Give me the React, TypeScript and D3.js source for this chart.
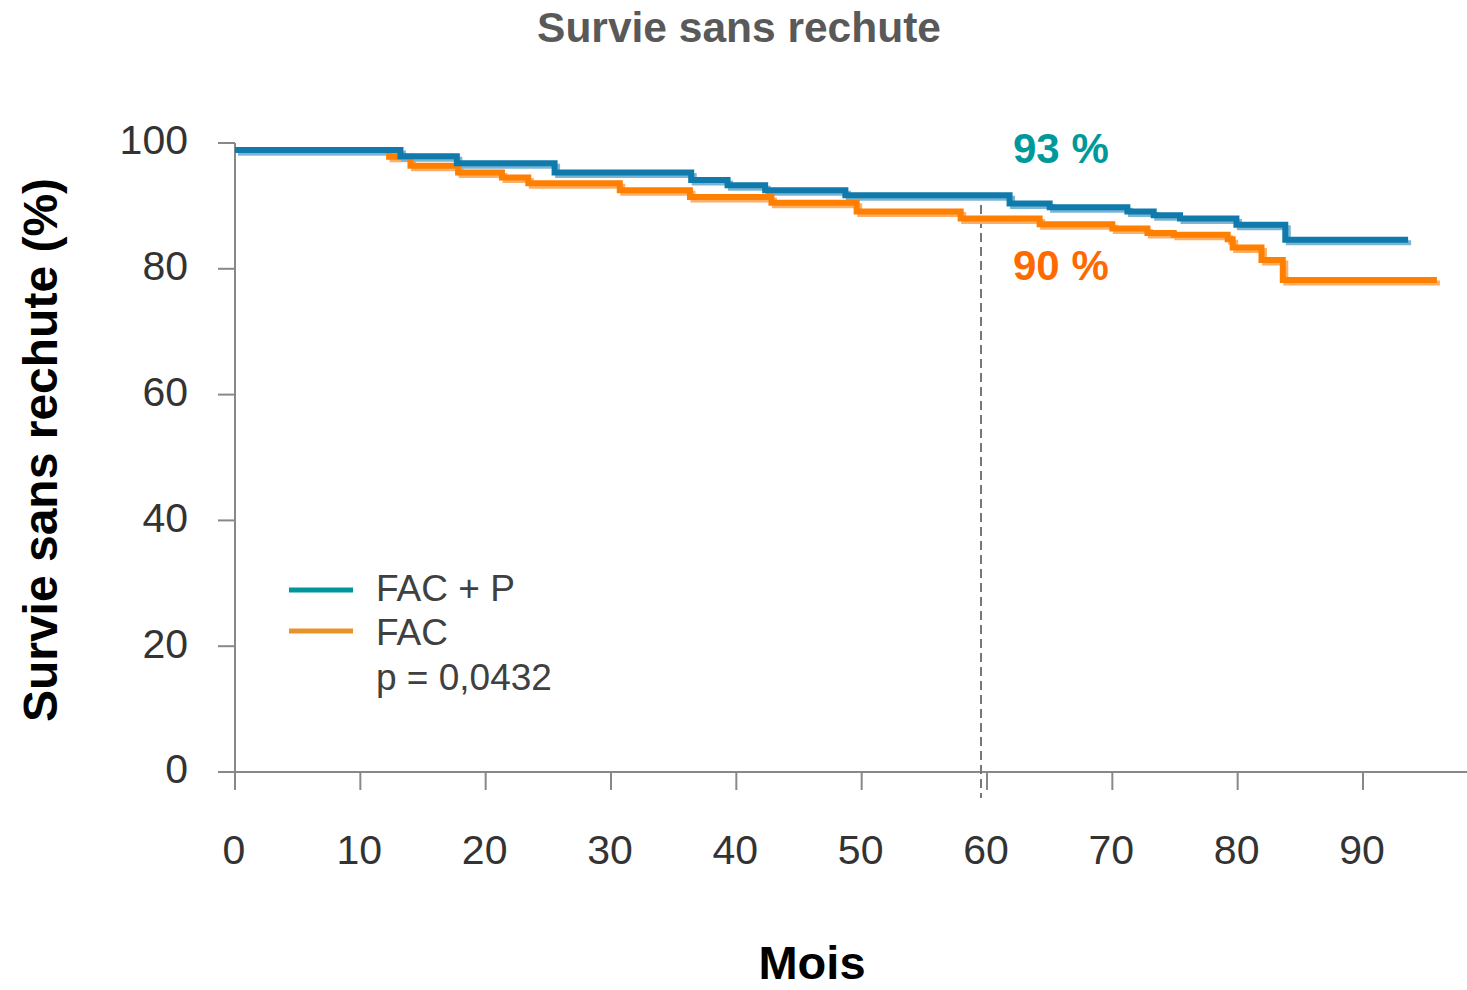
import React from 'react';
import * as d3 from 'd3';

// Kaplan-Meier steps (months, % relapse-free)
const fapMonths = [0, 13.2, 17.7, 25.5, 36.4, 39.3, 42.3, 48.7, 61.8, 65, 71.2, 73.3, 75.4, 79.9, 83.8, 93.6];
const fapValues = [98.9, 97.9, 96.8, 95.3, 94.1, 93.3, 92.5, 91.7, 90.4, 89.8, 89.1, 88.5, 88.0, 87.0, 84.6, 84.6];

const facMonths = [0, 12.3, 14, 17.8, 21.3, 23.4, 30.7, 36.3, 42.8, 49.6, 57.9, 64.2, 70.0, 72.8, 74.9, 79.2, 79.6, 81.9, 83.6, 95.9];
const facValues = [98.9, 97.8, 96.4, 95.3, 94.5, 93.6, 92.5, 91.4, 90.5, 89.1, 88.0, 87.1, 86.4, 85.7, 85.4, 84.7, 83.4, 81.4, 78.2, 78.2];

const xTicks = [0, 10, 20, 30, 40, 50, 60, 70, 80, 90];
const yTicks = [0, 20, 40, 60, 80, 100];
const legendLabels = ['FAC + P', 'FAC'];
const pValue = 'p = 0,0432';
const landmark = 60;
const landmarkLabels = ['93 %', '90 %'];

const W = 1467;
const H = 990;
const font = 'Arial, "Liberation Sans", sans-serif';

export default function App() {
  const x = d3.scaleLinear().domain([0, 90]).range([235, 1363]);
  const y = d3.scaleLinear().domain([0, 100]).range([772, 143]);

  const line = d3.line<[number, number]>()
    .x(d => x(d[0]))
    .y(d => y(d[1]))
    .curve(d3.curveStepAfter);

  const fap = line(fapMonths.map((m, i) => [m, fapValues[i]]) as [number, number][]) || '';
  const fac = line(facMonths.map((m, i) => [m, facValues[i]]) as [number, number][]) || '';

  const blue = '#0f7aab';
  const orange = '#ff7f00';

  return (
    <svg width={W} height={H} style={{ position: 'absolute', left: 0, top: 0 }} fontFamily={font}>
      <rect width={W} height={H} fill="#fff" />

      <text x={739} y={42} textAnchor="middle" fontSize={42.5} fontWeight="bold" fill="#595959">Survie sans rechute</text>

      {/* axes */}
      <line x1={218} x2={1467} y1={y(0)} y2={y(0)} stroke="#888" strokeWidth={2} />
      <line x1={x(0)} x2={x(0)} y1={y(100)} y2={790} stroke="#888" strokeWidth={2} />
      {yTicks.map(t => (
        <g key={'y' + t}>
          <line x1={218} x2={x(0)} y1={y(t)} y2={y(t)} stroke="#888" strokeWidth={2} />
          <text x={188} y={y(t) - 3} dy="0.35em" textAnchor="end" fontSize={41} fill="#333">{t}</text>
        </g>
      ))}
      {xTicks.map(t => (
        <g key={'x' + t}>
          <line x1={x(t)} x2={x(t)} y1={y(0)} y2={790} stroke="#888" strokeWidth={2} />
          <text x={x(t) - 1} y={850} dy="0.35em" textAnchor="middle" fontSize={41} fill="#333">{t}</text>
        </g>
      ))}

      <text transform={`translate(57,450) rotate(-90)`} textAnchor="middle" fontSize={48} fontWeight="bold" fill="#000">Survie sans rechute (%)</text>
      <text x={812} y={979} textAnchor="middle" fontSize={47} fontWeight="bold" fill="#000">Mois</text>

      {/* 60-month landmark */}
      <line x1={x(landmark) - 6} x2={x(landmark) - 6} y1={205} y2={798} stroke="#777" strokeWidth={2} strokeDasharray="9,5" />

      {/* curves: soft shadow stroke then main stroke */}
      <path d={fac} fill="none" stroke="#ffae66" strokeWidth={5} transform="translate(3,3)" />
      <path d={fap} fill="none" stroke="#7ab6d3" strokeWidth={5} transform="translate(3,3)" />
      <path d={fac} fill="none" stroke={orange} strokeWidth={6} />
      <path d={fap} fill="none" stroke={blue} strokeWidth={6} />

      <text x={1013} y={148} dy="0.35em" fontSize={42} fontWeight="bold" fill="#00999b">{landmarkLabels[0]}</text>
      <text x={1013} y={265} dy="0.35em" fontSize={42} fontWeight="bold" fill="#ff6a00">{landmarkLabels[1]}</text>

      {/* legend */}
      <line x1={289} x2={353} y1={590} y2={590} stroke="#00969a" strokeWidth={5} />
      <line x1={289} x2={353} y1={631} y2={631} stroke="#e8922a" strokeWidth={5} />
      <text x={376} y={588} dy="0.35em" fontSize={37} fill="#404040">{legendLabels[0]}</text>
      <text x={376} y={632} dy="0.35em" fontSize={37} fill="#404040">{legendLabels[1]}</text>
      <text x={376} y={677} dy="0.35em" fontSize={37} fill="#404040">{pValue}</text>
    </svg>
  );
}
